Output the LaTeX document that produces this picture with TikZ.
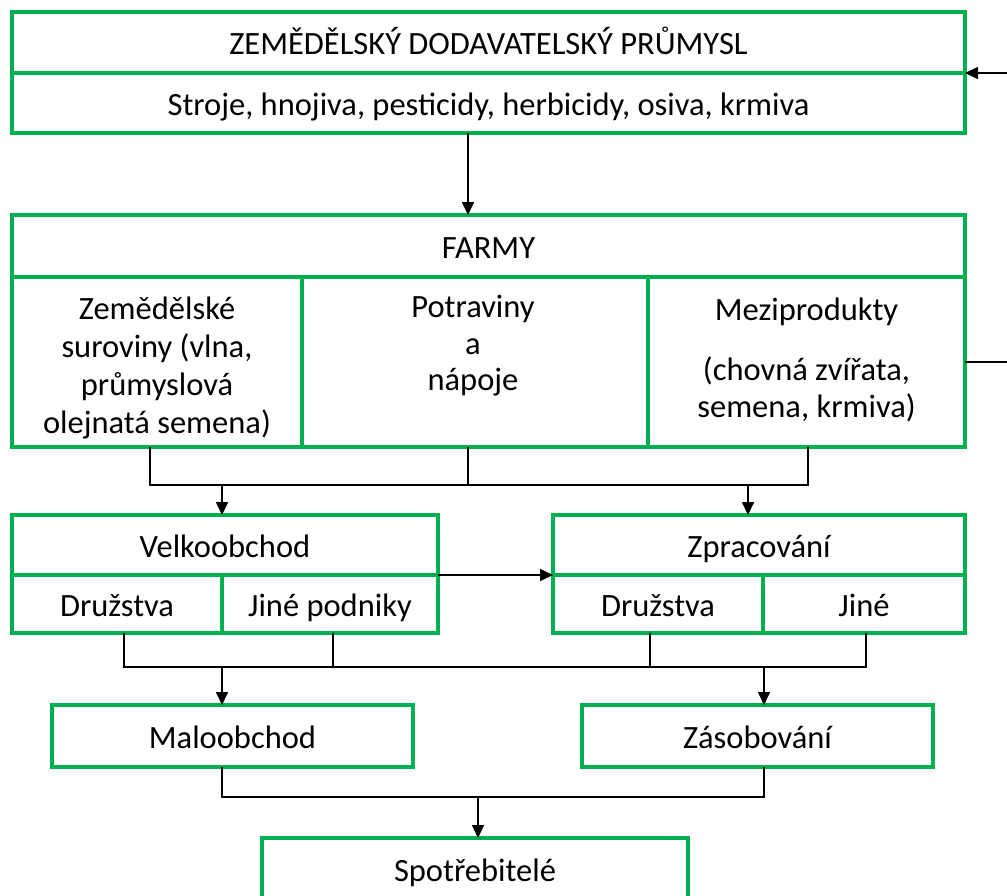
\documentclass[tikz,border=0pt]{standalone}
\usepackage{fontspec}
\setmainfont{Carlito}
\usetikzlibrary{arrows.meta,calc}
\definecolor{boxgreen}{RGB}{0,176,80}
\tikzset{
  cell/.style={draw=boxgreen, line width=3.2pt, rectangle, inner sep=0pt, outer sep=0pt,
    align=center, text height=27pt, text depth=3pt},
  lbl/.style={inner sep=0pt, align=center},
  link/.style={draw=black, line width=1.6pt},
  arr/.style={link, -{Triangle[length=13pt,width=12pt]}}
}
\begin{document}
\begin{tikzpicture}[x=1pt,y=-1pt,font=\fontsize{32.5}{38}\selectfont]
\useasboundingbox (0,0) rectangle (1007,895);

% supply industry
\node[cell, minimum width=953, minimum height=61] (topH) at (488.5,42.5) {ZEMĚDĚLSKÝ DODAVATELSKÝ PRŮMYSL};
\node[cell, minimum width=953, minimum height=60] (topS) at (488.5,103) {Stroje, hnojiva, pesticidy, herbicidy, osiva, krmiva};

% farms
\node[cell, minimum width=953, minimum height=62] (farmH) at (488.5,246) {FARMY};
\node[cell, minimum width=290, minimum height=170] (c1) at (157,362) {};
\node[cell, minimum width=346, minimum height=170] (c2) at (475,362) {};
\node[cell, minimum width=317, minimum height=170] (c3) at (806.5,362) {};
\node[lbl] (c1t) at (157,368) {Zemědělské\\suroviny (vlna,\\průmyslová\\olejnatá semena)};
\node[lbl, font=\fontsize{32.5}{36.5}\selectfont] (c2t) at (473,346) {Potraviny\\a\\nápoje};
\node[lbl] (c3a) at (806.5,312) {Meziprodukty};
\node[lbl, font=\fontsize{32.5}{37}\selectfont] (c3b) at (806.5,389) {(chovná zvířata,\\semena, krmiva)};

% wholesale and processing
\node[cell, minimum width=426, minimum height=60] (velH) at (225,545) {Velkoobchod};
\node[cell, minimum width=210, minimum height=58] (velA) at (117,604) {Družstva};
\node[cell, minimum width=216, minimum height=58] (velB) at (330,604) {Jiné podniky};
\node[cell, minimum width=412, minimum height=60] (zprH) at (759,545) {Zpracování};
\node[cell, minimum width=210, minimum height=58] (zprA) at (658,604) {Družstva};
\node[cell, minimum width=202, minimum height=58] (zprB) at (864,604) {Jiné};

% retail and catering
\node[cell, minimum width=361, minimum height=62] (malo) at (232.5,736) {Maloobchod};
\node[cell, minimum width=351, minimum height=62] (zaso) at (757.5,736) {Zásobování};
\node[cell, minimum width=426, minimum height=62] (spot) at (475,869) {Spotřebitelé};

% supply industry -> farms
\draw[arr] ($(topS.south)+(-20.5,0)$) -- ($(farmH.north)+(-20.5,0)$);
% feedback from farms to supply industry
\draw[arr] (c3.east) -- ++(80,0) |- (topH.south east);

% farms -> wholesale / processing
\draw[link] ($(c1.south)+(-7,0)$) |- ($(c3.south)+(1.5,38)$) -- ($(c3.south)+(1.5,0)$);
\draw[link] ($(c2.south)+(-7,0)$) -- ++(0,38);
\draw[arr] ($(velH.north)+(-3,-30)$) -- ($(velH.north)+(-3,0)$);
\draw[arr] ($(zprH.north)+(-11,-30)$) -- ($(zprH.north)+(-11,0)$);
\draw[arr] (velH.south east) -- (zprH.south west);

% wholesale / processing -> retail / catering
\draw[link] ($(velA.south)+(7,0)$) |- ($(zprB.south)+(2,34)$) -- ($(zprB.south)+(2,0)$);
\draw[link] ($(velB.south)+(3,0)$) -- ++(0,34);
\draw[link] ($(zprA.south)+(-8,0)$) -- ++(0,34);
\draw[arr] ($(malo.north)+(-10.5,-38)$) -- ($(malo.north)+(-10.5,0)$);
\draw[arr] ($(zaso.north)+(6.5,-38)$) -- ($(zaso.north)+(6.5,0)$);

% retail / catering -> consumers
\draw[link] ($(malo.south)+(-10.5,0)$) -- ++(0,30) -| ($(zaso.south)+(6.5,0)$);
\draw[arr] ($(spot.north)+(3,-41)$) -- ($(spot.north)+(3,0)$);
\end{tikzpicture}
\end{document}
